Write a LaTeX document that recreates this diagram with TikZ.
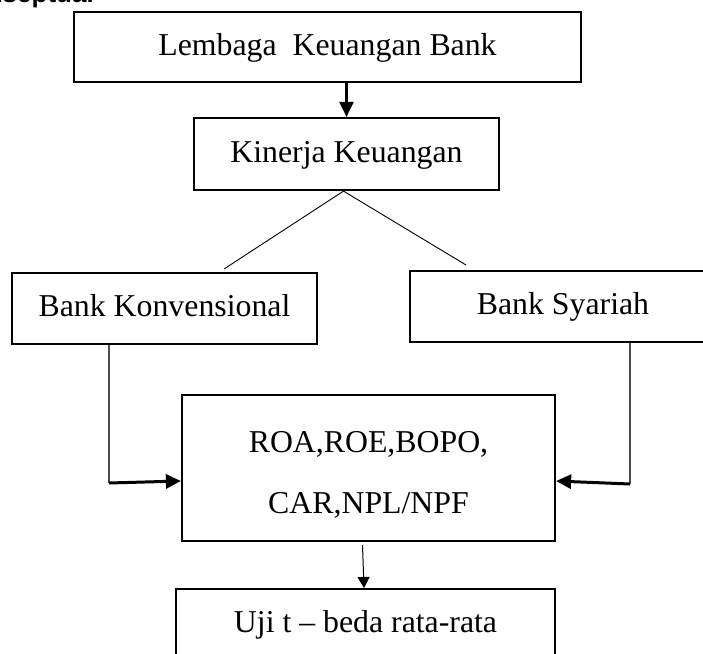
\documentclass[tikz,border=0pt]{standalone}
\usepackage{fontspec}
\setmainfont{Liberation Serif}
\newfontfamily\judulfont{Liberation Sans}
\usetikzlibrary{arrows.meta, positioning}

\begin{document}
\begin{tikzpicture}[x=1pt, y=-1pt,
    kotak/.style={draw, line width=2.2pt, inner sep=0pt, align=center, font=\fontsize{31.8}{38}\selectfont},
    satu/.style={kotak, text height=22pt, text depth=6pt},
    panah/.style={-{Triangle[length=15pt, width=14pt]}},
    panahkecil/.style={-{Triangle[length=11pt, width=12pt]}},
    garis/.style={line width=0.9pt}]
    \path[use as bounding box, clip] (0,0) rectangle (703,653);

    % judul (terpotong di tepi atas)
    \node[anchor=base east, inner sep=0pt, font=\judulfont\bfseries\fontsize{26}{30}\selectfont] (judul) at (94,2) {Kerangka Konseptual};

    % kotak-kotak
    \node[satu, minimum width=507pt, minimum height=70pt] (lembaga) at (327.5,47) {Lembaga\ \ Keuangan Bank};
    \node[satu, minimum width=305pt, minimum height=72pt] (kinerja) at (346.5,154) {Kinerja Keuangan};
    \node[satu, minimum width=305pt, minimum height=71pt] (konv) at (164.5,308.5) {Bank Konvensional};
    \node[satu, minimum width=306pt, minimum height=71pt] (syariah) at (563,306.5) {Bank Syariah};
    \node[kotak, minimum width=373pt, minimum height=146pt, font=\fontsize{31.8}{61}\selectfont] (roa) at (368.5,468)
        {\rule{0pt}{34pt}ROA,ROE,BOPO,\\CAR,NPL/NPF};
    \node[kotak, anchor=north, minimum width=379pt, inner ysep=21pt, font=\fontsize{31.8}{61}\selectfont] (uji) at (365.5,588)
        {Uji t – beda rata-rata\\\mbox{}};

    % penghubung
    \draw[panah, line width=2.2pt] (kinerja.north |- lembaga.south) -- (kinerja.north);

    \coordinate (ujungkiri) at (224,269);
    \coordinate (ujungkanan) at (466,265);
    \draw[garis] ([xshift=-3pt]kinerja.south) -- (ujungkiri);
    \draw[garis] ([xshift=-3pt]kinerja.south) -- (ujungkanan);

    \coordinate (belokkiri) at (109,483);
    \coordinate (belokkanan) at (630,484);
    \draw[line width=1.3pt, black!70] (konv.south -| belokkiri) -- (belokkiri);
    \draw[panah, line width=3pt] (belokkiri) -- ([yshift=-13pt]roa.west);
    \draw[line width=1.3pt, black!70] (syariah.south -| belokkanan) -- (belokkanan);
    \draw[panah, line width=3pt] (belokkanan) -- ([yshift=-13pt]roa.east);

    \draw[panahkecil, line width=1pt] ([xshift=-6pt, yshift=-3pt]roa.south) -- ([xshift=-1.5pt]uji.north);
\end{tikzpicture}
\end{document}
